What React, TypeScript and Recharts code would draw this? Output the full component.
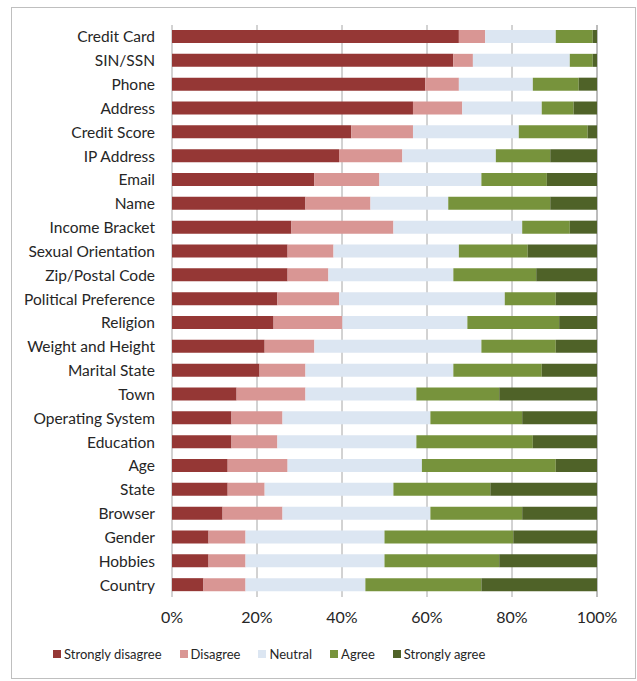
import React from 'react';
import { BarChart, Bar, XAxis, YAxis, CartesianGrid, Legend } from 'recharts';

// categories, top to bottom
const categories = [
  'Credit Card', 'SIN/SSN', 'Phone', 'Address', 'Credit Score', 'IP Address', 'Email', 'Name',
  'Income Bracket', 'Sexual Orientation', 'Zip/Postal Code', 'Political Preference', 'Religion',
  'Weight and Height', 'Marital State', 'Town', 'Operating System', 'Education', 'Age', 'State',
  'Browser', 'Gender', 'Hobbies', 'Country',
];

// percentages per answer, same order as categories
const stronglyDisagree = [67.5, 66.2, 59.6, 56.7, 42.2, 39.3, 33.5, 31.4, 28.1, 27.2, 27.2, 24.8, 23.9, 21.8, 20.6, 15.2, 14.0, 14.0, 13.1, 13.1, 11.9, 8.6, 8.6, 7.4];
const disagree = [6.2, 4.6, 7.9, 11.6, 14.5, 14.9, 15.3, 15.3, 24.0, 10.8, 9.6, 14.5, 16.2, 11.7, 10.8, 16.2, 12.0, 10.8, 14.1, 8.7, 14.1, 8.7, 8.7, 9.9];
const neutral = [16.6, 22.8, 17.4, 18.7, 24.9, 22.0, 24.0, 18.3, 30.3, 29.5, 29.4, 39.0, 29.4, 39.3, 34.8, 26.1, 34.8, 32.7, 31.6, 30.3, 34.8, 32.7, 32.7, 28.2];
const agree = [8.7, 5.4, 10.8, 7.5, 16.2, 12.8, 15.4, 24.0, 11.2, 16.2, 19.5, 12.0, 21.6, 17.5, 20.8, 19.5, 21.6, 27.4, 31.5, 22.8, 21.6, 30.3, 27.0, 27.3];
const stronglyAgree = [1.0, 1.0, 4.3, 5.5, 2.2, 11.0, 11.8, 11.0, 6.4, 16.3, 14.3, 9.7, 8.9, 9.7, 13.0, 23.0, 17.6, 15.1, 9.7, 25.1, 17.6, 19.7, 23.0, 27.2];

const xTicks = [0, 20, 40, 60, 80, 100];

const series = [
  { key: 'sd', name: 'Strongly disagree', values: stronglyDisagree, color: '#953735' },
  { key: 'd', name: 'Disagree', values: disagree, color: '#D99694' },
  { key: 'n', name: 'Neutral', values: neutral, color: '#DCE6F2' },
  { key: 'a', name: 'Agree', values: agree, color: '#77933C' },
  { key: 'sa', name: 'Strongly agree', values: stronglyAgree, color: '#4F6228' },
];

const data = categories.map((name, i) => {
  const row: any = { name };
  series.forEach((s) => { row[s.key] = s.values[i]; });
  return row;
});

const FONT = 'Lato, "Liberation Sans", sans-serif';
const TEXT = '#262626';

const LegendContent = () => (
  <div style={{ display: 'flex', alignItems: 'center', height: 20, paddingLeft: 41, fontFamily: FONT, fontSize: 13, color: TEXT }}>
    {series.map((s) => (
      <div key={s.key} style={{ display: 'flex', alignItems: 'center', marginRight: 18 }}>
        <span style={{ display: 'inline-block', width: 8, height: 8, background: s.color, marginRight: 3 }} />
        <span>{s.name}</span>
      </div>
    ))}
  </div>
);

export default function App() {
  return (
    <div style={{ position: 'absolute', left: 11, top: 7, width: 625, height: 672, border: '1px solid #BFBFBF', boxSizing: 'border-box', background: '#fff' }}>
      <BarChart
        width={623}
        height={670}
        data={data}
        layout="vertical"
        margin={{ top: 17, right: 38, left: 0, bottom: 14 }}
      >
        <CartesianGrid horizontal={false} vertical stroke="#A6A6A6" />
        <XAxis
          type="number"
          domain={[0, 100]}
          ticks={xTicks}
          tickFormatter={(v: number) => `${v}%`}
          axisLine={false}
          tickLine={false}
          tickMargin={9}
          height={47}
          tick={{ fontSize: 16, fill: TEXT, fontFamily: FONT }}
          interval={0}
        />
        <YAxis
          type="category"
          dataKey="name"
          width={160}
          axisLine={false}
          tickLine={false}
          tickMargin={11}
          interval={0}
          tick={{ fontSize: 15.5, fill: TEXT, fontFamily: FONT }}
        />
        <Legend verticalAlign="bottom" content={<LegendContent />} />
        {series.map((s) => (
          <Bar key={s.key} dataKey={s.key} name={s.name} stackId="all" fill={s.color} barSize={13} isAnimationActive={false} />
        ))}
      </BarChart>
    </div>
  );
}
